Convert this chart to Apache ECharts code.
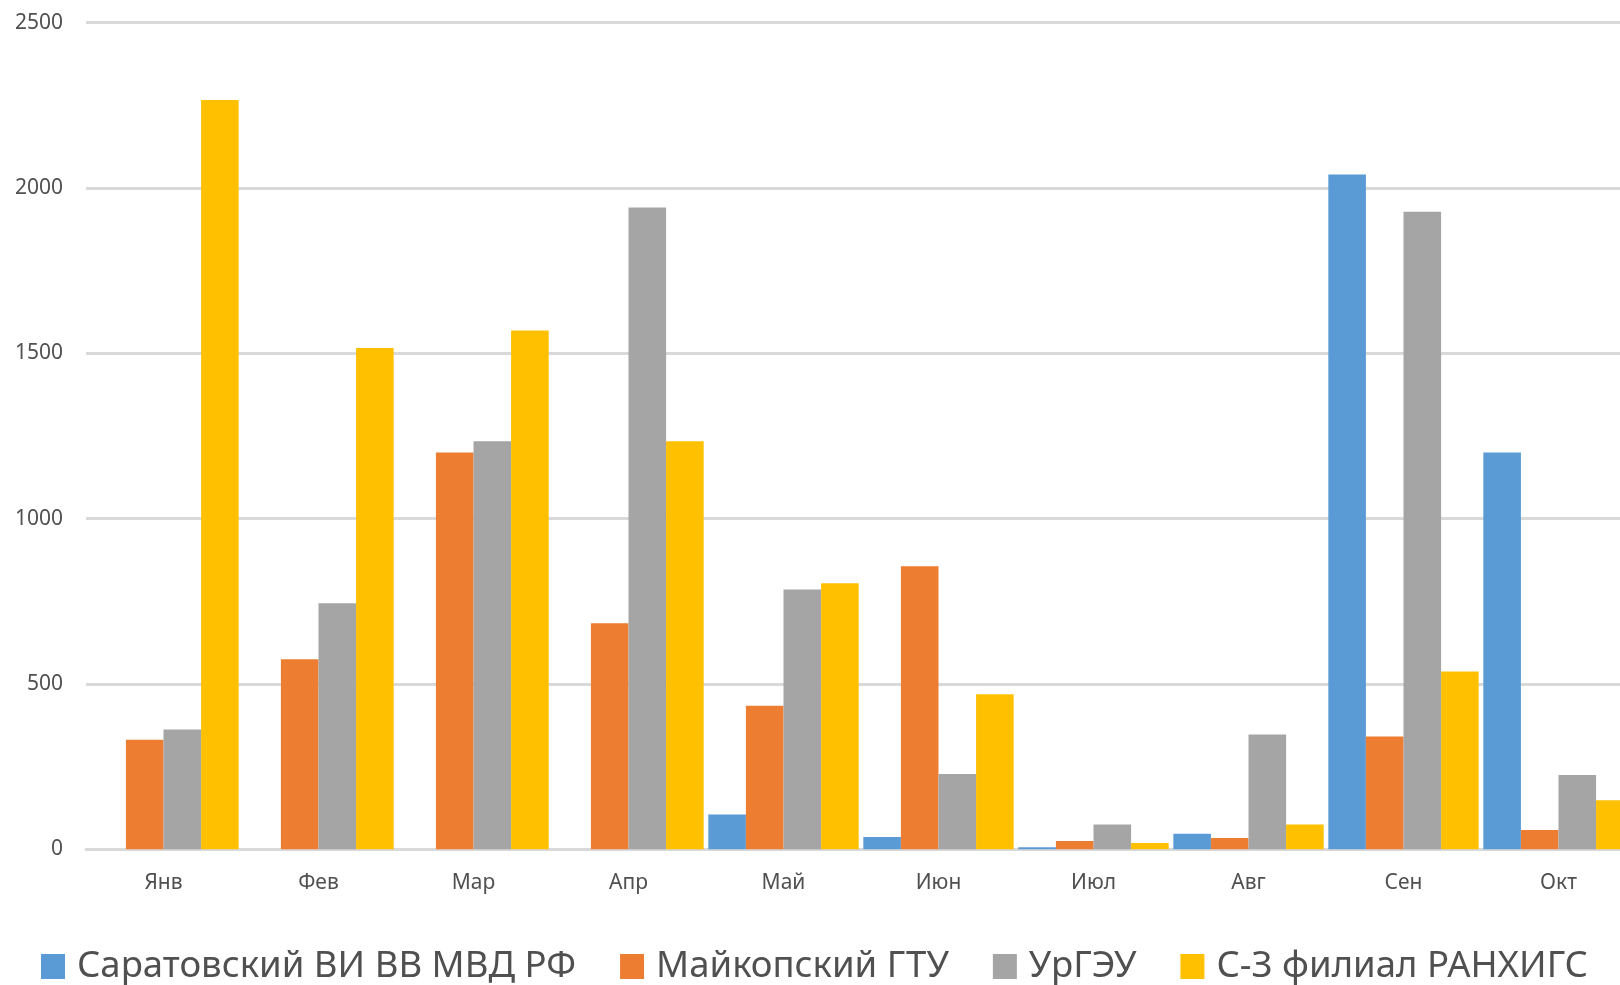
<!DOCTYPE html>
<html>
<head>
<meta charset="utf-8">
<script src="https://cdn.jsdelivr.net/npm/echarts@6/dist/echarts.min.js"></script>
<style>
html,body{margin:0;padding:0;background:#fff;}
#chart{width:1620px;height:985px;}
</style>
</head>
<body>
<div id="chart"></div>
<script>
const categories = ['Янв','Фев','Мар','Апр','Май','Июн','Июл','Авг','Сен','Окт'];
const seriesNames = ['Саратовский ВИ ВВ МВД РФ','Майкопский ГТУ','УрГЭУ','С-З филиал РАНХИГС'];
const saratov = [0, 0, 0, 0, 105, 37, 6, 47, 2041, 1200];
const maikop = [331, 575, 1200, 684, 434, 856, 25, 34, 341, 58];
const urgeu = [362, 744, 1234, 1941, 786, 228, 75, 347, 1928, 225];
const ranhigs = [2266, 1516, 1569, 1234, 805, 469, 19, 75, 538, 148];
const yTicks = [0, 500, 1000, 1500, 2000, 2500];
const colors = ['#5B9BD5','#ED7D31','#A5A5A5','#FFC000'];

const chart = echarts.init(document.getElementById('chart'), null, {renderer:'canvas'});
const allData = [saratov, maikop, urgeu, ranhigs];
chart.setOption({
  animation:false,
  color: colors,
  grid:{left:86, top:22.7, width:1550, height:826.6, containLabel:false, outerBoundsMode:'none'},
  legend:{
    data: seriesNames,
    left:36, top:943,
    icon:'rect', itemWidth:24, itemHeight:25, itemGap:44,
    textStyle:{fontFamily:'Noto Sans', fontSize:36.5, color:'#505050', padding:[0,0,0,7]}
  },
  xAxis:{
    type:'category', data:categories,
    axisLine:{lineStyle:{color:'#d9d9d9', width:3}},
    axisTick:{show:false},
    axisLabel:{fontFamily:'Noto Sans', fontSize:21, color:'#505050', margin:23}
  },
  yAxis:{
    type:'value', min:yTicks[0], max:yTicks[yTicks.length-1], interval:500,
    axisLine:{show:false}, axisTick:{show:false},
    splitLine:{lineStyle:{color:'#d9d9d9', width:3}},
    axisLabel:{fontFamily:'Noto Sans', fontSize:21, color:'#505050', margin:23,
      formatter: v => String(v)}
  },
  series: seriesNames.map((n,i)=>({
    name:n, type:'bar', data:allData[i],
    barGap:'0%', barCategoryGap:'3%',
    itemStyle:{color:colors[i]}
  }))
});
</script>
</body>
</html>
